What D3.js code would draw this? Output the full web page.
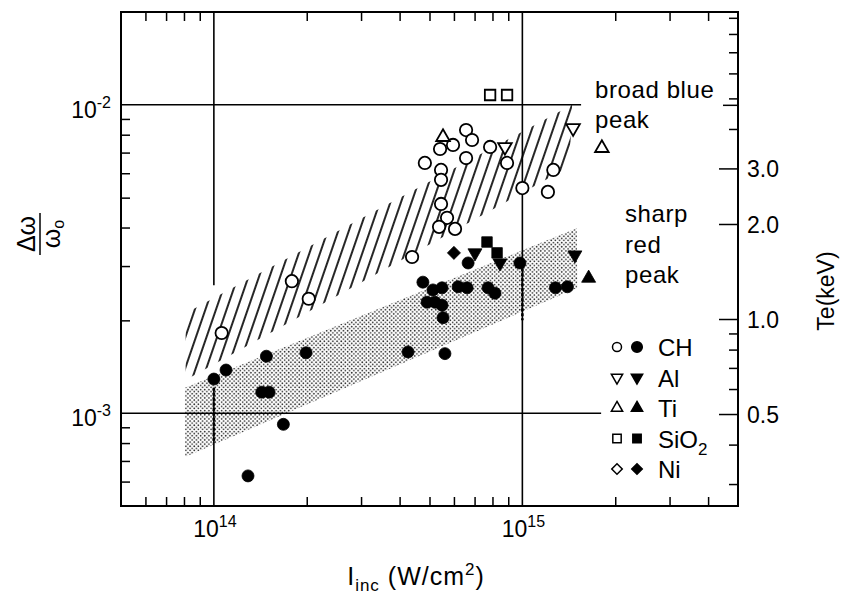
<!DOCTYPE html>
<html>
<head>
<meta charset="utf-8">
<script src="https://cdn.jsdelivr.net/npm/d3@7"></script>
<style>
  body { margin: 0; background: #fff; }
  svg { display: block; font-family: "Liberation Sans", Arial, Helvetica, sans-serif; }
</style>
</head>
<body>
<div id="viz-container"></div>
<script>
// points are [I_inc (W/cm2), dw/w0]
const chOpen = [
  [1.06e14, 1.82e-3], [1.79e14, 2.68e-3], [2.03e14, 2.35e-3], [4.39e14, 3.21e-3],
  [4.83e14, 6.48e-3], [5.41e14, 7.19e-3], [5.45e14, 6.15e-3], [5.45e14, 5.71e-3],
  [5.45e14, 4.77e-3], [5.70e14, 4.30e-3], [5.37e14, 4.02e-3], [6.05e14, 3.96e-3],
  [5.96e14, 7.41e-3], [6.57e14, 8.28e-3], [6.87e14, 7.69e-3], [6.57e14, 6.72e-3],
  [7.86e14, 7.30e-3], [8.92e14, 6.48e-3], [1.0e15, 5.37e-3], [1.21e15, 5.22e-3],
  [1.26e15, 6.15e-3]
];
const chFilled = [
  [1.0e14, 1.29e-3], [1.095e14, 1.38e-3], [1.48e14, 1.53e-3], [1.99e14, 1.57e-3],
  [1.43e14, 1.17e-3], [1.51e14, 1.17e-3], [1.68e14, 9.2e-4], [1.29e14, 6.26e-4],
  [4.26e14, 1.58e-3], [5.61e14, 1.56e-3], [5.53e14, 2.04e-3], [4.76e14, 2.66e-3],
  [5.13e14, 2.51e-3], [5.49e14, 2.55e-3], [4.91e14, 2.29e-3], [5.21e14, 2.29e-3],
  [5.49e14, 2.24e-3], [6.19e14, 2.57e-3], [6.62e14, 2.55e-3], [7.74e14, 2.55e-3],
  [8.15e14, 2.45e-3], [6.67e14, 3.07e-3], [9.82e14, 3.07e-3], [1.28e15, 2.55e-3],
  [1.40e15, 2.57e-3]
];
const alOpen = [[8.78e14, 7.30e-3], [1.46e15, 8.41e-3]];
const alFilled = [[7.02e14, 3.31e-3], [8.46e14, 3.07e-3], [1.48e15, 3.26e-3]];
const tiOpen = [[5.53e14, 7.86e-3], [1.81e15, 7.24e-3]];
const tiFilled = [[1.64e15, 2.74e-3]];
const sio2Open = [[7.86e14, 1.076e-2], [8.92e14, 1.076e-2]];
const sio2Filled = [[7.68e14, 3.59e-3], [8.28e14, 3.31e-3]];
const niFilled = [[6.0e14, 3.31e-3]];

// shaded regions (corners)
const blueBand = [[8.1e13, 2.11e-3], [1.45e15, 1.0e-2], [1.42e15, 6.3e-3], [8.1e13, 1.28e-3]];
const redBand = [[8.06e13, 1.21e-3], [1.50e15, 3.98e-3], [1.51e15, 2.55e-3], [8.06e13, 7.21e-4]];

// dashed bars inside the red band: [x, y from, y to]
const dashBars = [[1e14, 1.21e-3, 8.0e-4], [1e15, 2.95e-3, 2.0e-3]];

// ticks
const xMinorTicks = [6e13, 7e13, 8e13, 9e13, 2e14, 3e14, 4e14, 5e14, 6e14, 7e14, 8e14, 9e14, 2e15, 3e15, 4e15];
const yMinorTicks = [6e-4, 7e-4, 8e-4, 9e-4, 2e-3, 3e-3, 4e-3, 5e-3, 6e-3, 7e-3, 8e-3, 9e-3];
const teMinorTicks = [0.3, 0.4, 0.6, 0.7, 0.8, 0.9, 4, 5, 6, 7, 8, 9];
const teMajorTicks = [0.5, 1, 2, 3];
const teLabels = ["0.5", "1.0", "2.0", "3.0"];
const xLabels = [[1e14, "14"], [1e15, "15"]];
const yLabels = [[1e-2, "-2"], [1e-3, "-3"]];
const legendItems = [["CH", "", "circle"], ["Al", "", "down"], ["Ti", "", "up"], ["SiO", "2", "square"], ["Ni", "", "diamond"]];

const W = 841, H = 599;
const L = 121, R = 738, T = 12, B = 506;

const x = d3.scaleLog().domain([5e13, 5e15]).range([L, R]);
const y = d3.scaleLog().domain([5e-4, 2e-2]).range([B, T]);
const te = d3.scaleLog().domain([0.2556, 9.39]).range([B, T]);

const svg = d3.select("#viz-container").append("svg")
  .attr("width", W).attr("height", H);

const defs = svg.append("defs");
defs.append("pattern").attr("id", "hatch")
  .attr("patternUnits", "userSpaceOnUse").attr("width", 10).attr("height", 10)
  .attr("patternTransform", "rotate(19)")
  .append("line").attr("x1", 5).attr("y1", -1).attr("x2", 5).attr("y2", 11)
  .attr("stroke", "#000").attr("stroke-width", 1.7);
const dots = defs.append("pattern").attr("id", "stipple")
  .attr("patternUnits", "userSpaceOnUse").attr("width", 4.2).attr("height", 4.2);
dots.append("circle").attr("cx", 1.05).attr("cy", 1.05).attr("r", 0.85).attr("fill", "#222");
dots.append("circle").attr("cx", 3.15).attr("cy", 3.15).attr("r", 0.85).attr("fill", "#222");

// bands
const line = d3.line().x(d => x(d[0])).y(d => y(d[1]));
svg.append("path").attr("d", line(redBand) + "Z").attr("fill", "url(#stipple)");
svg.append("path").attr("d", line(blueBand) + "Z").attr("fill", "url(#hatch)");

// grid lines
const gridStroke = g => g.attr("stroke", "#000").attr("stroke-width", 1.6);
svg.append("line").attr("x1", x(1e14)).attr("x2", x(1e14)).attr("y1", T).attr("y2", y(2.6e-3)).call(gridStroke);
svg.append("line").attr("x1", x(1e14)).attr("x2", x(1e14)).attr("y1", y(1.21e-3)).attr("y2", B).call(gridStroke);
svg.append("line").attr("x1", x(1e15)).attr("x2", x(1e15)).attr("y1", T).attr("y2", B).call(gridStroke);
svg.append("line").attr("x1", L).attr("x2", x(1.55e15)).attr("y1", y(1e-2)).attr("y2", y(1e-2)).call(gridStroke);
svg.append("line").attr("x1", L).attr("x2", x(1.8e15)).attr("y1", y(1e-3)).attr("y2", y(1e-3)).call(gridStroke);

svg.selectAll(".dashbar").data(dashBars).join("line")
  .attr("x1", d => x(d[0])).attr("x2", d => x(d[0]))
  .attr("y1", d => y(d[1])).attr("y2", d => y(d[2]))
  .attr("stroke", "#000").attr("stroke-width", 2.6).attr("stroke-dasharray", "3,2");

// axes (ticks only, pointing inward)
function clean(g) {
  g.select(".domain").remove();
  g.selectAll(".tick line").attr("stroke", "#000").attr("stroke-width", 1.5);
}
svg.append("g").attr("transform", `translate(0,${B})`)
  .call(d3.axisBottom(x).tickValues(xMinorTicks).tickSize(-9).tickFormat("")).call(clean);
svg.append("g").attr("transform", `translate(0,${T})`)
  .call(d3.axisTop(x).tickValues(xMinorTicks).tickSize(-9).tickFormat("")).call(clean);
svg.append("g").attr("transform", `translate(${L},0)`)
  .call(d3.axisLeft(y).tickValues(yMinorTicks).tickSize(-9).tickFormat("")).call(clean);
svg.append("g").attr("transform", `translate(${R},0)`)
  .call(d3.axisRight(te).tickValues(teMinorTicks).tickSize(-9).tickFormat("")).call(clean);
svg.append("g").attr("transform", `translate(${R},0)`)
  .call(d3.axisRight(te).tickValues(teMajorTicks).tickSize(-19).tickFormat("")).call(clean);
svg.append("g").attr("transform", `translate(${R},0)`)
  .call(d3.axisRight(y).tickValues([1e-2]).tickSize(-15).tickFormat("")).call(clean);

// frame
svg.append("rect").attr("x", L).attr("y", T).attr("width", R - L).attr("height", B - T)
  .attr("fill", "none").attr("stroke", "#000").attr("stroke-width", 2);

// tick labels
xLabels.forEach(([v, e]) => {
  const t = svg.append("text").attr("x", x(v) + 1).attr("y", 537)
    .attr("text-anchor", "middle").attr("font-size", 23);
  t.append("tspan").text("10");
  t.append("tspan").attr("font-size", 16).attr("dy", -10).text(e);
});
yLabels.forEach(([v, e]) => {
  const t = svg.append("text").attr("x", 111).attr("y", y(v) + 13)
    .attr("text-anchor", "end").attr("font-size", 23);
  t.append("tspan").text("10");
  t.append("tspan").attr("font-size", 16).attr("dy", -10).text(e);
});
teMajorTicks.forEach((v, i) => {
  svg.append("text").attr("x", 747).attr("y", te(v) + 9)
    .attr("font-size", 23).text(teLabels[i]);
});

// axis titles
const xt = svg.append("text").attr("x", 416).attr("y", 585)
  .attr("text-anchor", "middle").attr("font-size", 25).attr("letter-spacing", 1);
xt.append("tspan").text("I");
xt.append("tspan").attr("font-size", 17).attr("dy", 6).text("inc");
xt.append("tspan").attr("dy", -6).text(" (W/cm");
xt.append("tspan").attr("font-size", 17).attr("dy", -10).text("2");
xt.append("tspan").attr("dy", 10).text(")");

const yt = svg.append("g").attr("transform", "translate(40,234) rotate(-90)");
yt.append("text").attr("x", 0).attr("y", -5).attr("text-anchor", "middle")
  .attr("font-size", 25).text("\u0394\u03c9");
yt.append("line").attr("x1", -21).attr("x2", 21).attr("y1", 0).attr("y2", 0)
  .attr("stroke", "#000").attr("stroke-width", 1.5);
const yw = yt.append("text").attr("x", 0).attr("y", 20).attr("text-anchor", "middle").attr("font-size", 25);
yw.append("tspan").text("\u03c9");
yw.append("tspan").attr("font-size", 16).attr("dy", 4).text("o");

svg.append("text").attr("transform", "translate(834,291) rotate(-90)")
  .attr("text-anchor", "middle").attr("font-size", 23).text("Te(keV)");

// annotations
const note = (tx, ty, s) => svg.append("text").attr("x", tx).attr("y", ty)
  .attr("font-size", 24).attr("letter-spacing", 0.6).text(s);
note(595, 98, "broad blue");
note(595, 128, "peak");
note(625, 222, "sharp");
note(625, 253, "red");
note(625, 283, "peak");

// markers
const symbolOf = {
  up: [d3.symbolTriangle, 0],
  down: [d3.symbolTriangle, 180],
  square: [d3.symbolSquare, 0],
  diamond: [d3.symbolSquare, 45]
};
function drawMarks(data, shape, filled, sz) {
  const g = svg.append("g");
  const fill = filled ? "#000" : "#fff";
  const sw = filled ? 0.8 : 1.8;
  if (shape === "circle") {
    g.selectAll("circle").data(data).join("circle")
      .attr("cx", d => x(d[0])).attr("cy", d => y(d[1]))
      .attr("r", sz).attr("fill", fill).attr("stroke", "#000").attr("stroke-width", sw);
  } else {
    const [type, rot] = symbolOf[shape];
    g.selectAll("path").data(data).join("path")
      .attr("d", d3.symbol().type(type).size(sz))
      .attr("transform", d => `translate(${x(d[0])},${y(d[1])}) rotate(${rot})`)
      .attr("fill", fill).attr("stroke", "#000").attr("stroke-width", sw);
  }
}
drawMarks(chFilled, "circle", true, 6);
drawMarks(alFilled, "down", true, 85);
drawMarks(tiFilled, "up", true, 85);
drawMarks(sio2Filled, "square", true, 110);
drawMarks(niFilled, "diamond", true, 85);
drawMarks(chOpen, "circle", false, 6.2);
drawMarks(alOpen, "down", false, 80);
drawMarks(tiOpen, "up", false, 80);
drawMarks(sio2Open, "square", false, 110);

// legend
legendItems.forEach(([name, sub, shape], i) => {
  const ly = 347 + i * 30.5;
  [false, true].forEach((filled, k) => {
    const cx = 617 + k * 20;
    const fill = filled ? "#000" : "#fff";
    if (shape === "circle") {
      svg.append("circle").attr("cx", cx).attr("cy", ly).attr("r", filled ? 5.3 : 4.5)
        .attr("fill", fill).attr("stroke", "#000").attr("stroke-width", 1.5);
    } else {
      const [type, rot] = symbolOf[shape];
      svg.append("path").attr("d", d3.symbol().type(type).size(shape === "square" ? 70 : 55))
        .attr("transform", `translate(${cx},${ly}) rotate(${rot})`)
        .attr("fill", fill).attr("stroke", "#000").attr("stroke-width", 1.5);
    }
  });
  const t = svg.append("text").attr("x", 658).attr("y", ly + 9).attr("font-size", 24);
  t.append("tspan").text(name);
  if (sub) t.append("tspan").attr("font-size", 17).attr("dy", 7).text(sub);
});
</script>
</body>
</html>
